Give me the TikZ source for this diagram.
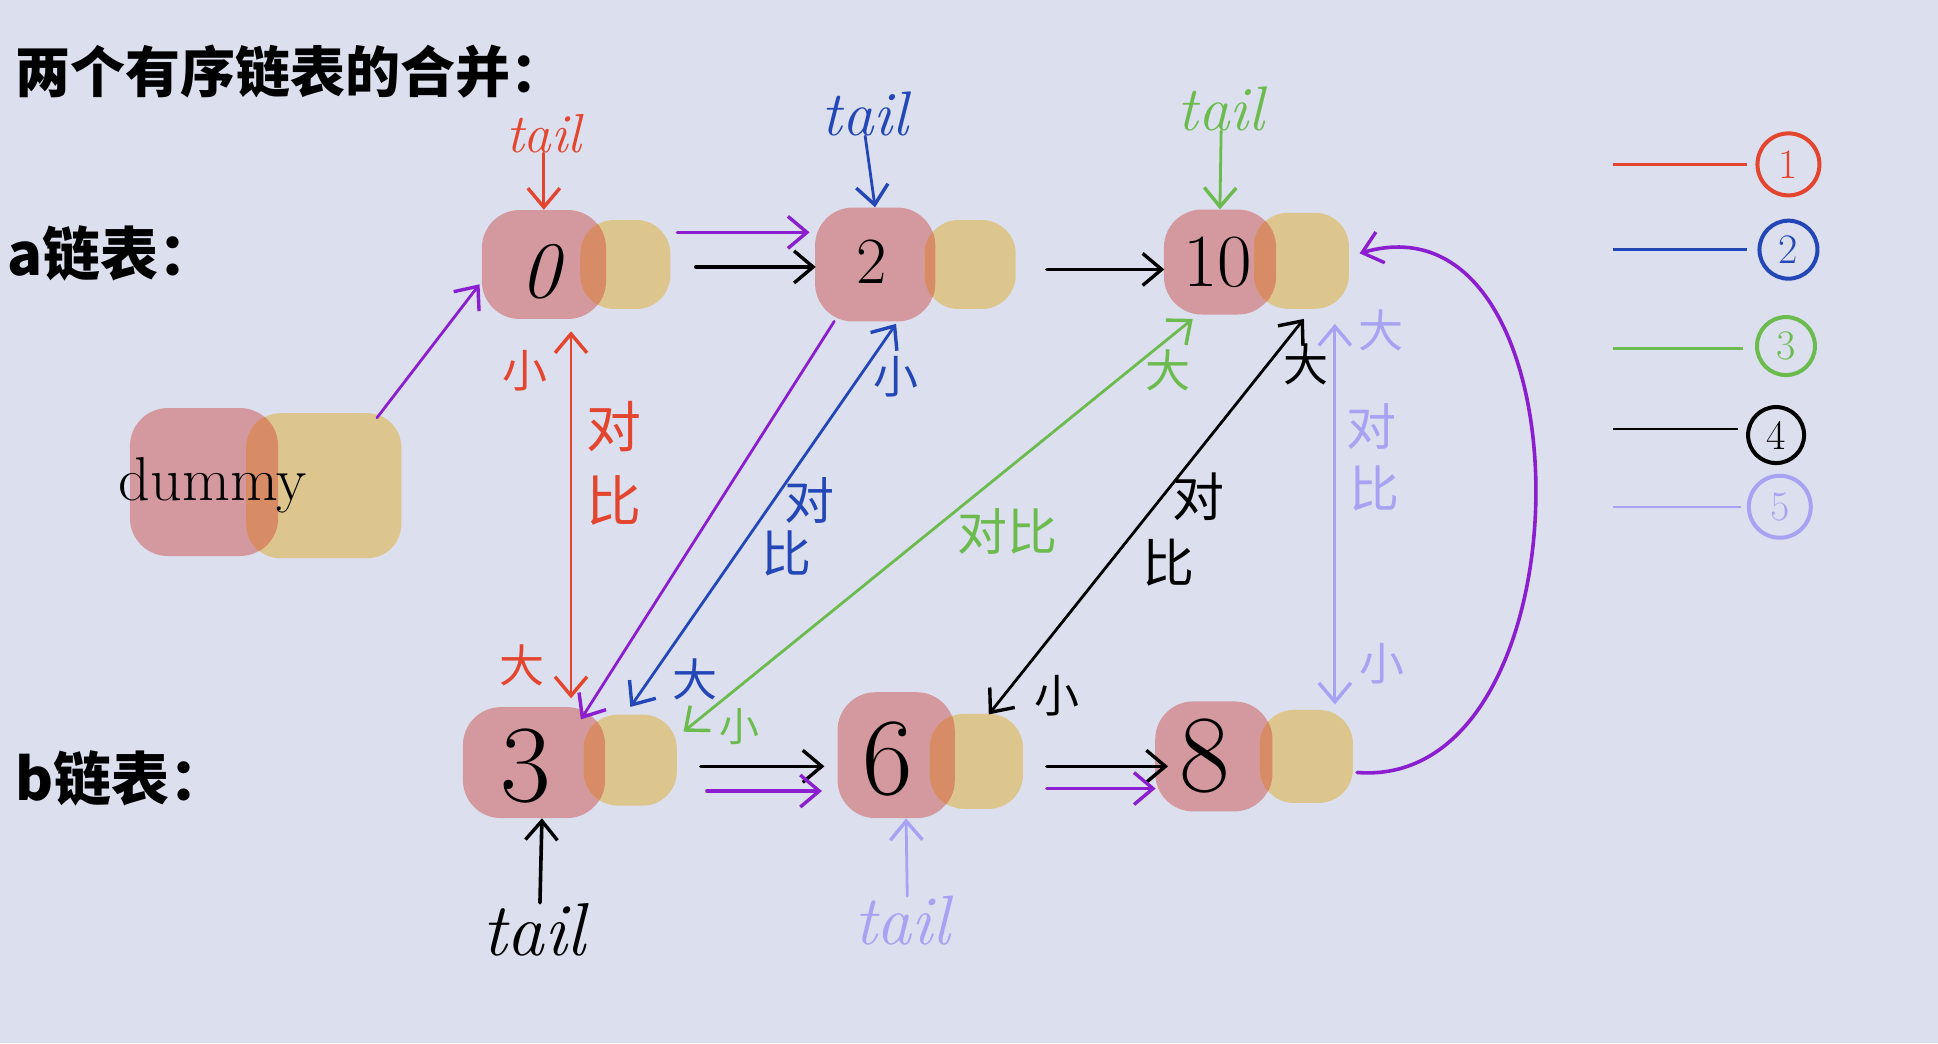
\documentclass[tikz,border=0pt]{standalone}
\usepackage{fontspec}
\newfontfamily\cjk{Noto Sans CJK SC}
\usetikzlibrary{arrows.meta}
\definecolor{bgc}{HTML}{DCDFEE}
\definecolor{pinkc}{HTML}{D4999E}
\definecolor{yelc}{HTML}{DDC68D}
\definecolor{ovlc}{HTML}{D78C66}
\definecolor{redc}{HTML}{E4452E}
\definecolor{bluec}{HTML}{2447B7}
\definecolor{greenc}{HTML}{6CBB4F}
\definecolor{purc}{HTML}{8B1FCF}
\definecolor{lavc}{HTML}{A8A2F3}
\tikzset{
  pinkb/.style={fill=pinkc, rounded corners=38pt, inner sep=0pt},
  yelb/.style={fill=yelc, rounded corners=34pt, inner sep=0pt},
  num/.style={inner sep=0pt, font=\fontsize{#1}{#1}\selectfont},
  lbl/.style={inner sep=0pt, font=\cjk\fontsize{#1}{#1}\selectfont},
  hdr/.style={inner sep=0pt, font=\cjk\bfseries\fontsize{#1}{#1}\selectfont},
  tailtxt/.style={inner sep=0pt, font=\fontsize{#1}{#1}\selectfont\itshape},
  conn/.style={line width=2.8pt, line cap=round, line join=round},
  thickconn/.style={line width=3.6pt, line cap=round, line join=round},
  onetip/.style={-{Straight Barb[length=19pt,width=32pt,line width=3.4pt]}},
  twotip/.style={{Straight Barb[length=19pt,width=32pt,line width=3.4pt]}-{Straight Barb[length=19pt,width=32pt,line width=3.4pt]}},
  legline/.style={line width=2.4pt},
  legcirc/.style={circle, draw, line width=4pt, inner sep=0pt, minimum size=#1, font=\fontsize{42}{42}\selectfont},
}
\newcommand\overlapfill[2]{%
  \begin{scope}
    \clip[rounded corners=38pt] (#1.south west) rectangle (#1.north east);
    \fill[ovlc, rounded corners=34pt] (#2.south west) rectangle (#2.north east);
  \end{scope}}
\begin{document}
\begin{tikzpicture}[x=1.236pt, y=-1.236pt]
\useasboundingbox (0,0) rectangle (1568,844);
\fill[bgc] (0,0) rectangle (1568,844);

% headings
\node[hdr=55, anchor=west] (title) at (12,58) {两个有序链表的合并：};
\node[hdr=58, anchor=west] (alab) at (6,205) {a链表：};
\node[hdr=58, anchor=west] (blab) at (12,630) {b链表：};

% list nodes
\node[pinkb, minimum width=124pt, minimum height=109pt] (p0) at (440,214) {};
\node[yelb, minimum width=90pt, minimum height=89pt] (y0) at (506,214) {};
\overlapfill{p0}{y0}
\node[pinkb, minimum width=120pt, minimum height=114pt] (p2) at (708,214) {};
\node[yelb, minimum width=91pt, minimum height=89pt] (y2) at (785,214) {};
\overlapfill{p2}{y2}
\node[pinkb, minimum width=112pt, minimum height=105pt] (p10) at (987,212) {};
\node[yelb, minimum width=95pt, minimum height=96pt] (y10) at (1053,211) {};
\overlapfill{p10}{y10}
\node[pinkb, minimum width=148pt, minimum height=148pt] (pd) at (165,390) {};
\node[yelb, minimum width=155pt, minimum height=145pt] (yd) at (262,393) {};
\overlapfill{pd}{yd}
\node[pinkb, minimum width=142pt, minimum height=111pt] (p3) at (432,617) {};
\node[yelb, minimum width=93pt, minimum height=91pt] (y3) at (510,615) {};
\overlapfill{p3}{y3}
\node[pinkb, minimum width=117pt, minimum height=126pt] (p6) at (725,611) {};
\node[yelb, minimum width=93pt, minimum height=95pt] (y6) at (790,616) {};
\overlapfill{p6}{y6}
\node[pinkb, minimum width=117pt, minimum height=110pt] (p8) at (982,612) {};
\node[yelb, minimum width=93pt, minimum height=93pt] (y8) at (1057,612) {};
\overlapfill{p8}{y8}

% node texts
\node[num=80] (n0) at (437,220) {\itshape 0};
\node[num=66] (n2) at (705,212) {2};
\node[num=75] (n10) at (985,212) {10};
\node[num=110] (n3) at (425,620) {3};
\node[num=110] (n6) at (718,614) {6};
\node[num=110] (n8) at (975,612) {8};
\node[num=62] (nd) at (172,393) {dummy};

% tails
\node[tailtxt=55, text=redc] (t0) at (440,108) {tail};
\draw[conn, onetip, redc] (t0.south) -- (p0.north);
\node[tailtxt=63, text=bluec] (t2) at (700,92) {tail};
\draw[conn, onetip, bluec] (t2.south) -- (p2.north);
\node[tailtxt=63, text=greenc] (t10) at (988,88) {tail};
\draw[conn, onetip, greenc] (t10.south) -- (p10.north);
\node[tailtxt=75, text=black] (t3) at (432,752) {tail};
\draw[thickconn, onetip, black] ([xshift=6]t3.north) -- ([xshift=8]p3.south);
\node[tailtxt=70, text=lavc] (t6) at (730,745) {tail};
\draw[conn, onetip, lavc] ([xshift=5]t6.north) -- ([xshift=10]p6.south);

% next pointers
\draw[conn, onetip, purc] ([shift={(43,-55)}]yd.center) -- ([shift={(-52,16)}]p0.center);
\draw[thickconn, onetip, black] ([shift={(57,2)}]y0.center) -- ([shift={(-48,2)}]p2.center);
\draw[thickconn, onetip, purc] ([shift={(42,-26)}]y0.center) -- ([shift={(-53,-26)}]p2.center);
\draw[thickconn, onetip, black] ([shift={(62,4)}]y2.center) -- ([shift={(-45,6)}]p10.center);
\draw[thickconn, onetip, black] ([shift={(57,5)}]y3.center) -- ([shift={(-58,9)}]p6.center);
\draw[thickconn, onetip, purc] ([shift={(62,25)}]y3.center) -- ([shift={(-60,29)}]p6.center);
\draw[thickconn, onetip, black] ([shift={(57,4)}]y6.center) -- ([shift={(-37,8)}]p8.center);
\draw[thickconn, onetip, purc] ([shift={(57,22)}]y6.center) -- ([shift={(-47,26)}]p8.center);

% comparisons
\draw[conn, twotip, redc] ([shift={(22,54)}]p0.center) -- ([shift={(30,-52)}]p3.center);
\draw[conn, onetip, purc] ([shift={(-33,46)}]p2.center) -- ([shift={(38,-35)}]p3.center);
\draw[conn, twotip, bluec] ([shift={(17,48)}]p2.center) -- ([shift={(0,-43)}]y3.center);
\draw[conn, twotip, greenc] ([shift={(-22,46)}]p10.center) -- ([shift={(43,-23)}]y3.center);
\draw[conn, twotip, black] ([shift={(2,47)}]y10.center) -- ([shift={(10,-38)}]y6.center);
\draw[conn, twotip, lavc] ([shift={(27,51)}]y10.center) -- ([shift={(23,-42)}]y8.center);
\draw[thickconn, onetip, purc] ([shift={(41,13)}]y8.center) .. controls (1290,640) and (1290,150) .. ([shift={(47,-6)}]y10.center);

% labels
\node[lbl=45, text=redc] (r1) at (425,300) {小};
\node[lbl=55, text=redc] (r2) at (497,345) {对};
\node[lbl=55, text=redc] (r3) at (497,405) {比};
\node[lbl=45, text=redc] (r4) at (422,538) {大};
\node[lbl=45, text=bluec] (b1) at (725,305) {小};
\node[lbl=50, text=bluec] (b2) at (655,405) {对};
\node[lbl=50, text=bluec] (b3) at (636,448) {比};
\node[lbl=45, text=bluec] (b4) at (562,550) {大};
\node[lbl=45, text=greenc] (g1) at (945,300) {大};
\node[lbl=50, text=greenc] (g2) at (815,430) {对比};
\node[lbl=40, text=greenc] (g3) at (598,588) {小};
\node[lbl=45, text=black] (k1) at (1057,295) {大};
\node[lbl=52, text=black] (k2) at (970,402) {对};
\node[lbl=52, text=black] (k3) at (945,455) {比};
\node[lbl=45, text=black] (k4) at (855,563) {小};
\node[lbl=45, text=lavc] (v1) at (1117,267) {大};
\node[lbl=50, text=lavc] (v2) at (1110,345) {对};
\node[lbl=50, text=lavc] (v3) at (1112,395) {比};
\node[lbl=45, text=lavc] (v4) at (1118,537) {小};

% legend
\node[legcirc=62pt, draw=redc, text=redc] (c1) at (1447,133) {1};
\coordinate (l1) at (1305,133);
\draw[legline, redc] (l1) -- ([xshift=-8]l1 -| c1.west);
\node[legcirc=58pt, draw=bluec, text=bluec] (c2) at (1447,202) {2};
\coordinate (l2) at (1305,202);
\draw[legline, bluec] (l2) -- ([xshift=-10]l2 -| c2.west);
\node[legcirc=58pt, draw=greenc, text=greenc] (c3) at (1445,280) {3};
\coordinate (l3) at (1305,282);
\draw[legline, greenc] (l3) -- ([xshift=-12]l3 -| c3.west);
\node[legcirc=56pt, draw=black, text=black] (c4) at (1437,352) {4};
\coordinate (l4) at (1305,347);
\draw[legline, black] (l4) -- ([xshift=-8]l4 -| c4.west);
\node[legcirc=62pt, draw=lavc, text=lavc] (c5) at (1440,410) {5};
\coordinate (l5) at (1305,410);
\draw[legline, lavc] (l5) -- ([xshift=-6]l5 -| c5.west);
\end{tikzpicture}
\end{document}
